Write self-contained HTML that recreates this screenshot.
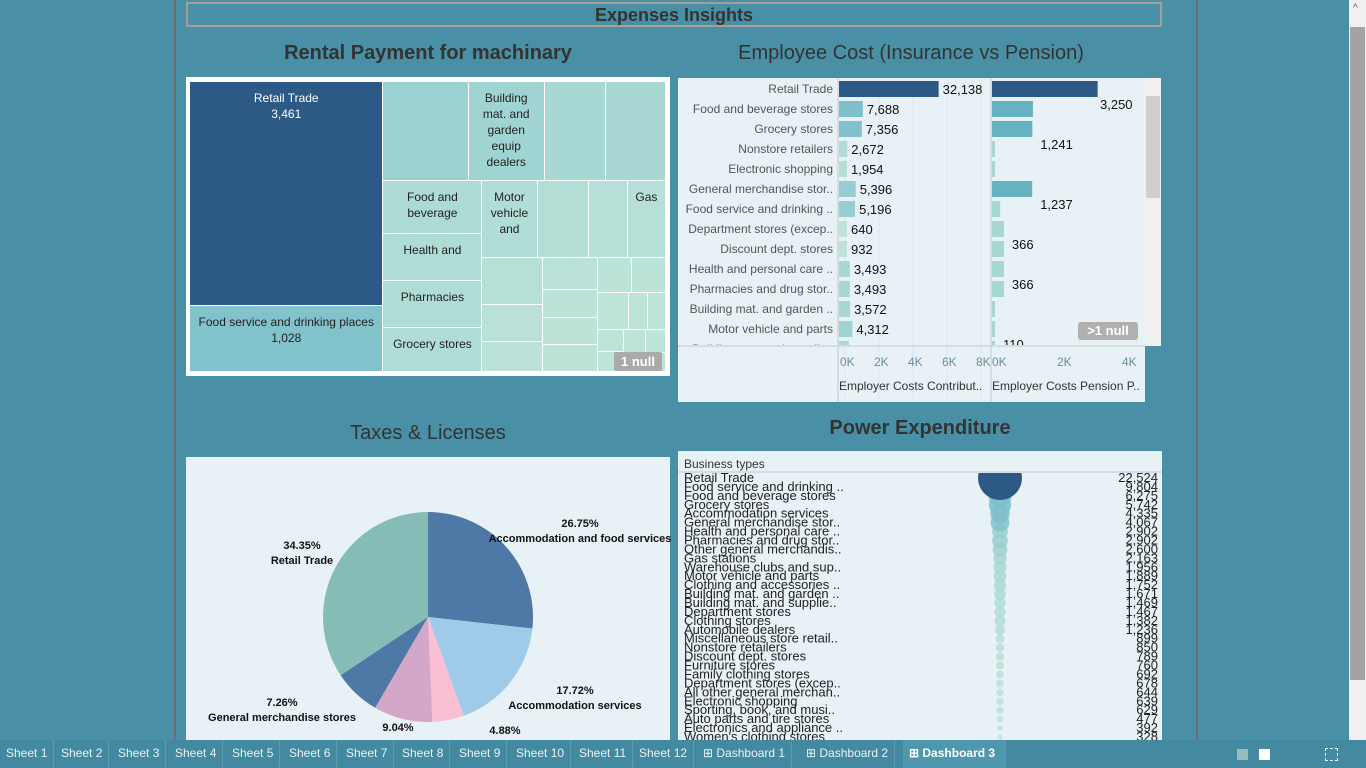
<!DOCTYPE html>
<html><head><meta charset="utf-8">
<style>
body{margin:0;width:1366px;height:768px;overflow:hidden;background:#4990a6;font-family:"Liberation Sans",sans-serif;position:relative}
.abs{position:absolute}
.title{position:absolute;color:#333;font-size:20px;text-align:center;white-space:nowrap}
.tm{position:absolute;box-sizing:border-box;border-right:1px solid #fff;border-bottom:1px solid #fff;overflow:hidden;text-align:center;font-size:12px;line-height:16px;color:#222;padding:8px 3px 0 3px}
.tab{position:absolute;top:740px;height:28px;line-height:26px;font-size:12px;color:#eaf3f6;border-right:1px solid #5a9cb0;padding:0 6px}
</style></head><body>
<div class="abs" style="left:174px;top:0;width:2px;height:740px;background:#6e6e6e"></div>
<div class="abs" style="left:1196px;top:0;width:2px;height:740px;background:#6e6e6e"></div>
<div class="abs" style="left:1349px;top:0;width:17px;height:740px;background:#f0f0f0"><div style="position:absolute;left:1px;top:27px;width:15px;height:653px;background:#a3a3a3"></div><div style="position:absolute;left:4px;top:3px;font-size:10px;color:#555">^</div></div>
<div class="abs" style="left:186px;top:2px;width:972px;height:21px;border:2px solid #a59e92;color:#333;font-weight:bold;font-size:18px;text-align:center;line-height:22px">Expenses Insights</div>

<div class="title" style="left:186px;width:484px;top:42px;font-weight:bold">Rental Payment for machinary</div>
<div class="title" style="left:678px;width:466px;top:42px">Employee Cost (Insurance vs Pension)</div>
<div class="title" style="left:186px;width:484px;top:422px">Taxes &amp; Licenses</div>
<div class="title" style="left:678px;width:484px;top:417px;font-weight:bold">Power Expenditure</div>

<div class="abs" style="left:186px;top:77px;width:484px;height:299px;background:#fff"></div>
<div class="abs" id="treemap" style="left:190px;top:82px;width:476px;height:290px"></div>
<div class="abs" style="left:614px;top:352px;width:48px;height:19px;background:#aaa;color:#fff;font-weight:bold;font-size:13px;text-align:center;line-height:19px;border-radius:2px">1 null</div>

<svg class="abs" id="bars" style="left:0;top:0" width="1366" height="768"></svg>

<script>
// ---------- treemap data ----------
const tmValues=[3461,1028,673,602,483,475,420,372,372,348,339,314,240,234,229,181,146,141,123,119,119,98,98,89,55,53,47,42,40,37,35,30];
const tmLabels=["Retail Trade","Food service and drinking places","","Building mat. and garden equip dealers","","","Food and beverage","Health and","Pharmacies","Grocery stores","Motor vehicle and","","","Gas"];
const tmShowValue=[true,true];
function tmColor(v){
  const lerp=(a,b,t)=>a.map((x,i)=>Math.round(x+(b[i]-x)*t));
  let c;
  if(v>=1100)c=lerp([124,191,202],[44,89,133],Math.min(1,(v-1100)/1000));
  else c=lerp([191,229,217],[124,191,202],Math.pow(v/1100,1.3));
  return `rgb(${c})`;
}
(function(){
  const W=476,H=290,tot=tmValues.reduce((a,b)=>a+b,0),k=W*H/tot;
  const items=tmValues.map((v,i)=>({v,i,a:v*k}));
  let x=0,y=0,w=W,h=H,idx=0;
  const el=document.getElementById('treemap');
  function worst(row,side){const s=row.reduce((a,b)=>a+b.a,0),t=s/side;let m=0;row.forEach(r=>{const l=r.a/t;m=Math.max(m,l/t,t/l)});return m;}
  while(idx<items.length){
    const side=Math.min(w,h);let row=[items[idx++]];let best=worst(row,side);
    while(idx<items.length){const nr=row.concat([items[idx]]);const nw=worst(nr,side);if(nw<=best*1.85){row=nr;idx++;best=Math.min(best,nw);}else break;}
    const s=row.reduce((a,b)=>a+b.a,0),t=s/side;let off=0;
    row.forEach(r=>{const l=r.a/t;let rx,ry,rw,rh;
      if(w>=h){rx=x;ry=y+off;rw=t;rh=l;}else{rx=x+off;ry=y;rw=l;rh=t;}off+=l;
      const d=document.createElement('div');d.className='tm';
      
      
      d.style.cssText+=`left:${rx}px;top:${ry}px;width:${rw}px;height:${rh}px;background:${tmColor(r.v)};`;
      if(r.i===0)d.style.color='#fff';
      const lab=tmLabels[r.i]||'';
      d.innerHTML=lab+(tmShowValue[r.i]?'<br>'+r.v.toLocaleString('en-US'):'');
      el.appendChild(d);});
    if(w>=h){x+=t;w-=t;}else{y+=t;h-=t;}
  }
})();
</script>

<div class="abs" style="left:678px;top:78px;width:467px;height:324px;background:#e8f1f6;z-index:-1"></div>
<div class="abs" style="left:1145px;top:78px;width:16px;height:268px;background:#f0f0f0"><div style="position:absolute;left:1px;top:18px;width:14px;height:102px;background:#cfcfcf"></div></div>
<div class="abs" style="left:1078px;top:322px;width:60px;height:18px;background:#b0b0b0;color:#fff;font-weight:bold;font-size:13px;text-align:center;line-height:18px;border-radius:3px;z-index:2">&gt;1 null</div>

<div class="abs" style="left:186px;top:457px;width:484px;height:283px;background:#e8f1f6;z-index:-1"></div>
<div class="abs" style="left:678px;top:451px;width:484px;height:289px;background:#e8f1f6;z-index:-1"></div>

<script>
// ---------- bar chart data ----------
const barCats=["Retail Trade","Food and beverage stores","Grocery stores","Nonstore retailers","Electronic shopping","General merchandise stor..","Food service and drinking ..","Department stores (excep..","Discount dept. stores","Health and personal care ..","Pharmacies and drug stor..","Building mat. and garden ..","Motor vehicle and parts","Building mat. and supplie.."];
const contribValues=[32138,7688,7356,2672,1954,5396,5196,640,932,3493,3493,3572,4312,3212];
const pensionValues=[3250,1260,1241,30,20,1237,250,366,366,366,366,20,30,20];
const pensionLabelShown=[true,false,true,false,false,true,false,true,false,true,false,false,true,false];
const pensionLabelText=["3,250","","1,241","","","1,237","","366","","366","","","110",""];
const contribTicks=["0K","2K","4K","6K","8K"];
const pensionTicks=["0K","2K","4K"];
// ---------- pie data ----------
const pieNames=["Accommodation and food services","Accommodation services","","","General merchandise stores","Retail Trade"];
const piePct=[26.75,17.72,4.88,9.04,7.26,34.35];
const pieColors=["#4e79a7","#a0cbe8","#fabfd2","#d4a6c8","#4e79a7","#86bcb6"];
// ---------- bubble data ----------
const bubCats=["Retail Trade","Food service and drinking ..","Food and beverage stores","Grocery stores","Accommodation services","General merchandise stor..","Health and personal care ..","Pharmacies and drug stor..","Other general merchandis..","Gas stations","Warehouse clubs and sup..","Motor vehicle and parts","Clothing and accessories ..","Building mat. and garden ..","Building mat. and supplie..","Department stores","Clothing stores","Automobile dealers","Miscellaneous store retail..","Nonstore retailers","Discount dept. stores","Furniture stores","Family clothing stores","Department stores (excep..","All other general merchan..","Electronic shopping","Sporting, book, and musi..","Auto parts and tire stores","Electronics and appliance ..","Women's clothing stores"];
const bubValues=[22524,9804,6275,5742,4335,4067,2902,2902,2600,2163,1956,1889,1752,1671,1469,1467,1382,1236,899,850,789,760,692,678,644,639,629,477,392,328];

const svg=document.getElementById('bars');const NS='http://www.w3.org/2000/svg';
function mk(tag,attrs,parent){const e=document.createElementNS(NS,tag);for(const k in attrs)e.setAttribute(k,attrs[k]);(parent||svg).appendChild(e);return e;}
function txt(s,attrs,parent){const e=mk('text',attrs,parent);e.textContent=s;return e;}
// bar axes
const rowY=i=>89+i*20;
const cx0=839, cScale=v=>Math.max(8,v*0.0031);
const cTickX=i=>840+i*34;
const px0=992, pScale=v=>Math.max(3,v*0.0325);
const pTickX=i=>1000+i*65;
mk('defs',{}).innerHTML='<clipPath id="bc"><rect x="678" y="79" width="467" height="266"/></clipPath>';
for(let i=0;i<5;i++){const gl=mk('line',{x1:cTickX(i)+5,x2:cTickX(i)+5,y1:78,y2:402,stroke:'#dde6ec'});}
mk('line',{x1:838,x2:838,y1:78,y2:402,stroke:'#c8c8c8'});
mk('line',{x1:991,x2:991,y1:78,y2:402,stroke:'#c8c8c8'});
mk('line',{x1:678,x2:1145,y1:346,y2:346,stroke:'#c8c8c8'});
const g=mk('g',{'clip-path':'url(#bc)'});
barCats.forEach((c,i)=>{
  const y=rowY(i);
  const l=txt(c,{x:833,y:y+4,'text-anchor':'end','font-size':12,fill:'#555'},g);
  
  
  const v=contribValues[i],w=cScale(v);
  const col=i===0?'#2c5985':tmColor(Math.min(1090,v/7));
  const b=mk('rect',{x:cx0,y:y-8,width:w,height:16,fill:col},g);
  
  
  const vl=txt(v.toLocaleString('en-US'),{x:cx0+w+4,y:y+5,'font-size':13,fill:'#111'},g);
  
  
  const pv=pensionValues[i],pw=pScale(pv);
  const pc=i===0?'#2c5985':(pv>1000?'#66b2c0':'#a4d8d1');
  const pb=mk('rect',{x:px0,y:y-8,width:pw,height:16,fill:pc},g);
  
  
  if(pensionLabelShown[i]){const pl=txt(pensionLabelText[i],{x:i===0?1100:px0+pScale(pensionValues[i])+8,y:y+20,'font-size':13,fill:'#111'},g);
    
    }
});
contribTicks.forEach((t,i)=>{const e=txt(t,{x:cTickX(i),y:366,'font-size':12,fill:'#6a8fa0'});});
pensionTicks.forEach((t,i)=>{const e=txt(t,{x:pTickX(i)-8,y:366,'font-size':12,fill:'#6a8fa0'});});
txt('Employer Costs Contribut..',{x:839,y:390,'font-size':12,fill:'#333'});
txt('Employer Costs Pension P..',{x:992,y:390,'font-size':12,fill:'#333'});

// pie
const pcx=428,pcy=617,pr=105;let ang=-90;
const pieLabelPos=[[580,527],[575,694],[505,734],[398,731],[282,706],[302,549]];
piePct.forEach((p,i)=>{
  const a0=ang*Math.PI/180,a1=(ang+p*3.6)*Math.PI/180;ang+=p*3.6;
  const large=p>50?1:0;
  const d=`M${pcx},${pcy} L${pcx+pr*Math.cos(a0)},${pcy+pr*Math.sin(a0)} A${pr},${pr} 0 ${large} 1 ${pcx+pr*Math.cos(a1)},${pcy+pr*Math.sin(a1)} Z`;
  const s=mk('path',{d,fill:pieColors[i]});
  
  
});
piePct.forEach((p,i)=>{
  const [lx,ly]=pieLabelPos[i];
  const t=txt(p.toFixed(2)+'%',{x:lx,y:ly,'text-anchor':'middle','font-size':11,'font-weight':'bold',fill:'#111'});
  
  
  if(pieNames[i]){const n=txt(pieNames[i],{x:lx,y:ly+15,'text-anchor':'middle','font-size':11,'font-weight':'bold',fill:'#111'});
    
    }
});

// bubbles
txt('Business types',{x:684,y:468,'font-size':12,fill:'#333'});
mk('line',{x1:678,x2:1162,y1:472,y2:472,stroke:'#c8c8c8'});
mk('defs',{}).innerHTML='<clipPath id="pc"><rect x="678" y="473" width="484" height="267"/></clipPath>';
const g2=mk('g',{'clip-path':'url(#pc)'});
const bY=i=>478+i*8.93, bR=v=>22*Math.sqrt(v/22524);
bubCats.slice().reverse().forEach((c,j)=>{const i=bubCats.length-1-j;const v=bubValues[i];
  const ci=mk('circle',{cx:1000,cy:bY(i),r:bR(v),fill:i===0?'#2c5985':tmColor(Math.min(1090,v/4)),opacity:i===0?1:0.85},g2);
  
  });
bubCats.forEach((c,i)=>{
  const y=bY(i)+4;
  const l=txt(c,{x:684,y,'font-size':13,fill:'#222'},g2);
  
  
  const v=txt(bubValues[i].toLocaleString('en-US'),{x:1158,y,'text-anchor':'end','font-size':13,fill:'#222'},g2);
  
  
});
</script>

<div class="abs" style="left:0;top:740px;width:1366px;height:28px;background:#4389a0;z-index:-1"></div>
<div class="tab" style="left:0">Sheet 1</div>
<div class="tab" style="left:55px">Sheet 2</div>
<div class="tab" style="left:112px">Sheet 3</div>
<div class="tab" style="left:169px">Sheet 4</div>
<div class="tab" style="left:226px">Sheet 5</div>
<div class="tab" style="left:283px">Sheet 6</div>
<div class="tab" style="left:340px">Sheet 7</div>
<div class="tab" style="left:396px">Sheet 8</div>
<div class="tab" style="left:453px">Sheet 9</div>
<div class="tab" style="left:510px">Sheet 10</div>
<div class="tab" style="left:573px">Sheet 11</div>
<div class="tab" style="left:633px">Sheet 12</div>
<div class="tab" style="left:697px">⊞ Dashboard 1</div>
<div class="tab" style="left:800px">⊞ Dashboard 2</div>
<div class="tab" style="left:903px;background:#4f97ad;font-weight:bold;color:#fff;width:90px">⊞ Dashboard 3</div>
<div class="abs" style="left:1237px;top:749px;width:34px;height:11px"><span style="position:absolute;left:0;width:11px;height:11px;background:#9bb"></span><span style="position:absolute;left:22px;width:11px;height:11px;background:#fff"></span></div>
<div class="abs" style="left:1325px;top:748px;width:11px;height:11px;border:1px dashed #fff"></div>
</body></html>
